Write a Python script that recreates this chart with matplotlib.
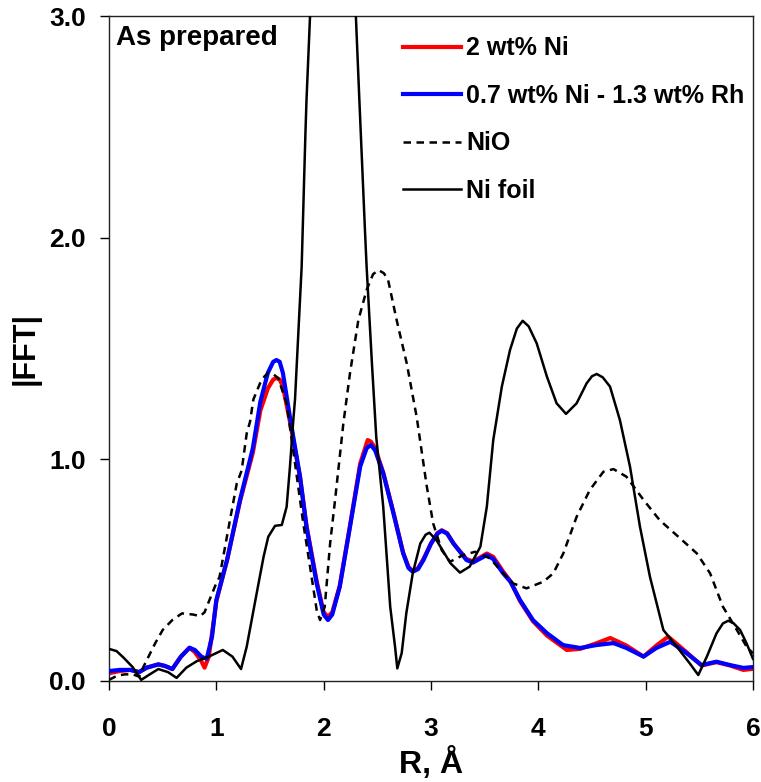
import matplotlib
matplotlib.use("Agg")
import matplotlib.pyplot as plt

plt.rcParams['font.family'] = ['Liberation Sans', 'DejaVu Sans']
plt.rcParams['font.weight'] = 'bold'

# ---- data ----
blue_r = [0.0, 0.1, 0.2, 0.28, 0.35, 0.46, 0.52, 0.59, 0.67, 0.75, 0.8, 0.86, 0.91, 0.96,
          1.0, 1.1, 1.22, 1.34, 1.41, 1.48, 1.53, 1.56, 1.59, 1.62, 1.686, 1.78, 1.84, 1.935, 2.0,
          2.04, 2.08, 2.15, 2.245, 2.34, 2.4, 2.44, 2.48, 2.555, 2.65, 2.74, 2.79, 2.83, 2.88, 2.93, 3.0,
          3.06, 3.1, 3.15, 3.21, 3.33, 3.39, 3.45, 3.52, 3.58, 3.67, 3.74, 3.83, 3.95, 4.08, 4.23, 4.39,
          4.54, 4.7, 4.82, 4.98, 5.1, 5.23, 5.38, 5.52, 5.66, 5.785, 5.91, 6.0]
blue_fft = [0.045, 0.05, 0.05, 0.04, 0.06, 0.075, 0.068, 0.054, 0.11, 0.15, 0.14, 0.11, 0.1, 0.2,
            0.365, 0.546, 0.816, 1.05, 1.26, 1.39, 1.44, 1.448, 1.44, 1.39, 1.19, 0.92, 0.695, 0.44, 0.30,
            0.275, 0.30, 0.425, 0.695, 0.967, 1.05, 1.065, 1.04, 0.937, 0.757, 0.577, 0.51, 0.493, 0.505, 0.546, 0.62,
            0.665, 0.678, 0.665, 0.62, 0.546, 0.534, 0.55, 0.568, 0.55, 0.487, 0.448, 0.365, 0.275, 0.216, 0.162, 0.149,
            0.162, 0.171, 0.149, 0.11, 0.149, 0.177, 0.126, 0.072, 0.087, 0.072, 0.059, 0.063]

red_r = [0.0, 0.1, 0.2, 0.28, 0.35, 0.46, 0.52, 0.59, 0.67, 0.75, 0.8, 0.86, 0.89, 0.93, 0.97,
         1.0, 1.1, 1.22, 1.34, 1.41, 1.48, 1.53, 1.56, 1.59, 1.62, 1.686, 1.78, 1.84, 1.935, 2.0,
         2.04, 2.08, 2.15, 2.245, 2.34, 2.41, 2.44, 2.48, 2.555, 2.65, 2.74, 2.79, 2.83, 2.88, 2.93, 3.0,
         3.06, 3.1, 3.15, 3.21, 3.33, 3.39, 3.45, 3.52, 3.58, 3.67, 3.74, 3.83, 3.95, 4.08, 4.265, 4.39,
         4.54, 4.67, 4.82, 4.98, 5.1, 5.21, 5.38, 5.52, 5.66, 5.785, 5.91, 6.0]
red_fft = [0.035, 0.045, 0.05, 0.04, 0.06, 0.075, 0.068, 0.054, 0.11, 0.15, 0.13, 0.09, 0.06, 0.11, 0.25,
           0.36, 0.546, 0.81, 1.03, 1.22, 1.32, 1.36, 1.367, 1.36, 1.33, 1.17, 0.92, 0.70, 0.45, 0.31,
           0.29, 0.31, 0.43, 0.70, 0.98, 1.087, 1.08, 1.05, 0.94, 0.76, 0.58, 0.515, 0.495, 0.51, 0.55, 0.62,
           0.667, 0.68, 0.667, 0.62, 0.55, 0.54, 0.555, 0.575, 0.56, 0.495, 0.45, 0.36, 0.27, 0.205, 0.14, 0.145,
           0.17, 0.194, 0.16, 0.11, 0.16, 0.20, 0.13, 0.07, 0.085, 0.07, 0.05, 0.055]

nio_r = [0.0, 0.08, 0.15, 0.22, 0.28, 0.32, 0.43, 0.5, 0.59, 0.68, 0.78, 0.85, 0.89, 0.99, 1.03,
         1.127, 1.19, 1.236, 1.283, 1.314, 1.345, 1.407, 1.45, 1.485, 1.53, 1.578, 1.655, 1.733, 1.81, 1.873,
         1.935, 1.966, 2.01, 2.06, 2.106, 2.183, 2.245, 2.323, 2.4, 2.46, 2.51, 2.56, 2.6, 2.68, 2.774, 2.867,
         2.96, 3.02, 3.1, 3.177, 3.3, 3.41, 3.55, 3.674, 3.767, 3.89, 4.047, 4.14, 4.233, 4.357,
         4.48, 4.606, 4.7, 4.82, 4.98, 5.13, 5.32, 5.476, 5.6, 5.72, 5.85, 5.94, 6.0]
nio_fft = [0.005, 0.025, 0.03, 0.03, 0.02, 0.063, 0.17, 0.23, 0.275, 0.305, 0.30, 0.293, 0.31, 0.43, 0.47,
           0.726, 0.89, 0.95, 1.117, 1.17, 1.27, 1.343, 1.375, 1.39, 1.385, 1.365, 1.25, 0.982, 0.711, 0.516,
           0.32, 0.275, 0.335, 0.62, 0.816, 1.16, 1.388, 1.628, 1.764, 1.835, 1.854, 1.84, 1.81, 1.628, 1.433, 1.19,
           0.88, 0.711, 0.59, 0.538, 0.568, 0.583, 0.553, 0.485, 0.44, 0.418, 0.448, 0.486, 0.576, 0.741,
           0.862, 0.944, 0.956, 0.922, 0.817, 0.726, 0.644, 0.576, 0.486, 0.335, 0.23, 0.155, 0.125]

foil_r = [0.0, 0.07, 0.13, 0.22, 0.3, 0.38, 0.46, 0.55, 0.63, 0.72, 0.82, 0.93, 1.06, 1.15, 1.23,
          1.283, 1.376, 1.44, 1.484, 1.547, 1.61, 1.655, 1.686, 1.717, 1.733, 1.795, 1.83, 1.84,
          1.873, 1.95, 2.1, 2.25, 2.3, 2.33, 2.385, 2.4, 2.45, 2.49, 2.555, 2.62, 2.665, 2.686,
          2.727, 2.77, 2.83, 2.9, 2.95, 2.985, 3.05, 3.18, 3.27, 3.36, 3.46, 3.52, 3.58, 3.66, 3.736,
          3.8, 3.854, 3.91, 3.985, 4.08, 4.17, 4.258, 4.357, 4.45, 4.5, 4.544, 4.6, 4.668, 4.76, 4.854, 4.947, 5.04,
          5.165, 5.29, 5.41, 5.49, 5.57, 5.66, 5.72, 5.77, 5.82, 5.88, 5.94, 6.0]
foil_fft = [0.145, 0.135, 0.108, 0.063, 0.005, 0.03, 0.054, 0.04, 0.014, 0.06, 0.09, 0.11, 0.14, 0.11, 0.054,
            0.155, 0.396, 0.56, 0.651, 0.70, 0.704, 0.786, 0.967, 1.177, 1.27, 1.87, 2.47, 2.62,
            3.0, 3.7, 4.0, 3.4, 3.0, 2.65, 2.03, 1.87, 1.43, 1.10, 0.786, 0.335, 0.155, 0.057,
            0.126, 0.306, 0.486, 0.62, 0.66, 0.669, 0.636, 0.532, 0.489, 0.516, 0.606, 0.786, 1.087, 1.328, 1.493,
            1.59, 1.625, 1.6, 1.523, 1.373, 1.253, 1.205, 1.253, 1.343, 1.375, 1.385, 1.37, 1.328, 1.177, 0.967, 0.696, 0.47,
            0.23, 0.155, 0.08, 0.027, 0.11, 0.215, 0.26, 0.272, 0.26, 0.23, 0.17, 0.10]

labels = ['2 wt% Ni', '0.7 wt% Ni - 1.3 wt% Rh', 'NiO', 'Ni foil']
x_ticks = [0, 1, 2, 3, 4, 5, 6]
y_ticks = [0.0, 1.0, 2.0, 3.0]
y_ticklabels = ['0.0', '1.0', '2.0', '3.0']

fig = plt.figure(figsize=(7.61, 7.82), dpi=100)
ax = fig.add_axes([109/761, 1-681/782, (753-109)/761, (681-16)/782])

l1, = ax.plot(red_r, red_fft, color='#ff0000', lw=3.0, label=labels[0], zorder=2,
              solid_joinstyle='round')
l2, = ax.plot(blue_r, blue_fft, color='#0000ff', lw=3.0, label=labels[1], zorder=3,
              solid_joinstyle='round')
l3, = ax.plot(nio_r, nio_fft, color='black', lw=1.8, linestyle=(0, (3, 2.2)), label=labels[2], zorder=4)
l4, = ax.plot(foil_r, foil_fft, color='black', lw=1.8, label=labels[3], zorder=5,
              solid_joinstyle='round')

ax.set_xlim(0, 6)
ax.set_ylim(0, 3.0)
ax.set_xticks(x_ticks)
ax.set_yticks(y_ticks)
ax.set_yticklabels(y_ticklabels)
ax.tick_params(direction='out', length=6.5, width=1.0, labelsize=19, pad=10)
ax.tick_params(axis='x', pad=19.5)
for lab in ax.get_xticklabels() + ax.get_yticklabels():
    lab.set_fontweight('bold')
for s in ax.spines.values():
    s.set_linewidth(1.0)
    s.set_color('#222222')

ax.set_xlabel('R, Å', fontsize=23, fontweight='bold', labelpad=4)
ax.set_ylabel('|FFT|', fontsize=22, fontweight='bold', labelpad=6)

ax.text(0.011, 0.986, 'As prepared', transform=ax.transAxes, fontsize=20,
        fontweight='bold', ha='left', va='top')

leg = ax.legend(handles=[l1, l2, l3, l4], loc='upper left', bbox_to_anchor=(0.43, 0.9955),
                frameon=False, fontsize=18, handlelength=2.3, handletextpad=0.22,
                labelspacing=0.94, borderaxespad=0.3)
for t in leg.get_texts():
    t.set_fontweight('bold')

fig.savefig('out.png', dpi=100)
